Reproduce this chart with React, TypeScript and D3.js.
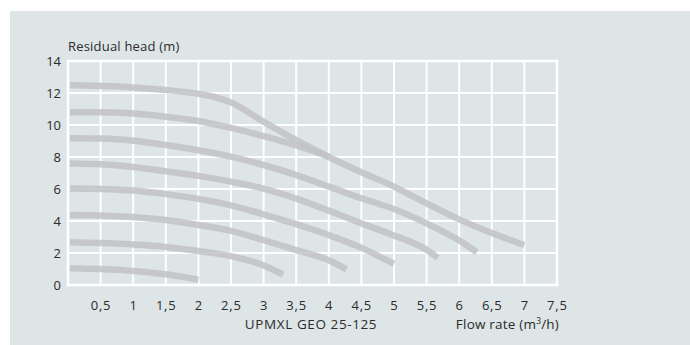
import React from "react";
import * as d3 from "d3";

const xTickValues = [0.5, 1, 1.5, 2, 2.5, 3, 3.5, 4, 4.5, 5, 5.5, 6, 6.5, 7, 7.5];
const xTickLabels = ["0,5", "1", "1,5", "2", "2,5", "3", "3,5", "4", "4,5", "5", "5,5", "6", "6,5", "7", "7,5"];
const yTickValues = [0, 2, 4, 6, 8, 10, 12, 14];
const yTickLabels = ["0", "2", "4", "6", "8", "10", "12", "14"];

const curveMax: [number, number][] = [[0.03, 12.5], [0.5, 12.44], [1, 12.35], [1.5, 12.19], [2, 11.95], [2.25, 11.75], [2.5, 11.4], [3, 10.2], [3.5, 9.05], [4, 8.0], [4.5, 7.05], [5, 6.15], [5.5, 5.1], [6, 4.1], [6.5, 3.25], [7, 2.5]];
const curveS7: [number, number][] = [[0.03, 10.8], [0.5, 10.8], [1, 10.72], [1.5, 10.52], [2, 10.25], [2.5, 9.82], [3, 9.3], [3.5, 8.72], [4.0, 8.02]];
const curveS6: [number, number][] = [[0.03, 9.17], [0.5, 9.15], [1, 9.02], [1.5, 8.75], [2, 8.42], [2.5, 8.02], [3, 7.5], [3.5, 6.87], [4, 6.15], [4.5, 5.42], [5, 4.75], [5.5, 3.85], [6, 2.78], [6.27, 2.05]];
const curveS5: [number, number][] = [[0.03, 7.6], [0.5, 7.55], [1, 7.38], [1.5, 7.1], [2, 6.82], [2.5, 6.46], [3, 6.02], [3.5, 5.4], [4, 4.65], [4.5, 3.85], [5, 3.1], [5.5, 2.2], [5.67, 1.7]];
const curveS4: [number, number][] = [[0.03, 6.03], [0.5, 6.0], [1, 5.9], [1.5, 5.68], [2, 5.38], [2.5, 4.98], [3, 4.42], [3.5, 3.8], [4, 3.12], [4.5, 2.32], [5, 1.32]];
const curveS3: [number, number][] = [[0.03, 4.38], [0.5, 4.35], [1, 4.25], [1.5, 4.06], [2, 3.75], [2.5, 3.38], [3, 2.8], [3.5, 2.18], [4, 1.55], [4.27, 0.98]];
const curveS2: [number, number][] = [[0.03, 2.67], [0.5, 2.62], [1, 2.53], [1.5, 2.38], [2, 2.12], [2.5, 1.8], [3, 1.22], [3.3, 0.65]];
const curveS1: [number, number][] = [[0.03, 1.05], [0.5, 1.0], [1, 0.88], [1.5, 0.67], [2, 0.33]];

const curves = [curveMax, curveS7, curveS6, curveS5, curveS4, curveS3, curveS2, curveS1];

const FONT = "'Open Sans', 'Noto Sans', sans-serif";
const TEXT = "#2b2b2b";

export default function App() {
  const W = 690;
  const H = 345;
  const x = d3.scaleLinear().domain([0, 7.5]).range([68, 557]);
  const y = d3.scaleLinear().domain([0, 14]).range([285, 61]);
  const line = d3
    .line<[number, number]>()
    .x((d) => x(d[0]))
    .y((d) => y(d[1]))
    .curve(d3.curveMonotoneX);
  const gridX = [0, ...xTickValues];

  return (
    <svg
      width={W}
      height={H}
      style={{ position: "absolute", left: 0, top: 0 }}
      fontFamily={FONT}
    >
      <rect x={0} y={0} width={W} height={H} fill="#ffffff" />
      <rect x={10} y={11} width={W - 10} height={H - 11} fill="#dde5e6" />

      {gridX.map((v) => (
        <line
          key={"gx" + v}
          x1={x(v)}
          x2={x(v)}
          y1={y(14) - 1.25}
          y2={y(0) + 1.25}
          stroke="#ffffff"
          strokeWidth={v === 0 || v === 7.5 ? 2.5 : 2}
        />
      ))}
      {yTickValues.map((v) => (
        <line
          key={"gy" + v}
          x1={x(0) - 1.25}
          x2={x(7.5) + 1.25}
          y1={y(v)}
          y2={y(v)}
          stroke="#ffffff"
          strokeWidth={v === 0 || v === 14 ? 2.5 : 2}
        />
      ))}

      {curves.map((c, i) => (
        <path
          key={"c" + i}
          d={line(c) || ""}
          fill="none"
          stroke="#c2c2c5"
          strokeOpacity={0.85}
          strokeWidth={6.5}
          strokeLinecap="butt"
          strokeLinejoin="round"
        />
      ))}

      {yTickValues.map((v, i) => (
        <text
          key={"yl" + v}
          x={61}
          y={y(v)}
          dy="0.36em"
          textAnchor="end"
          fontSize={13}
          fill={TEXT}
        >
          {yTickLabels[i]}
        </text>
      ))}

      {xTickValues.map((v, i) => (
        <text
          key={"xl" + v}
          x={x(v) + 0.4}
          y={305}
          dy="0.36em"
          textAnchor="middle"
          fontSize={13}
          letterSpacing={0.8}
          fill={TEXT}
        >
          {xTickLabels[i]}
        </text>
      ))}

      <text x={68} y={51} fontSize={13} letterSpacing={0.2} fill={TEXT}>
        Residual head (m)
      </text>
      <text x={311} y={329} textAnchor="middle" fontSize={13.5} letterSpacing={0.6} fill={TEXT}>
        UPMXL GEO 25-125
      </text>
      <text x={559} y={329} textAnchor="end" fontSize={13.5} letterSpacing={0.2} fill={TEXT}>
        Flow rate (m
        <tspan fontSize={8.5} dy={-5}>3</tspan>
        <tspan dy={5}>/h)</tspan>
      </text>
    </svg>
  );
}
